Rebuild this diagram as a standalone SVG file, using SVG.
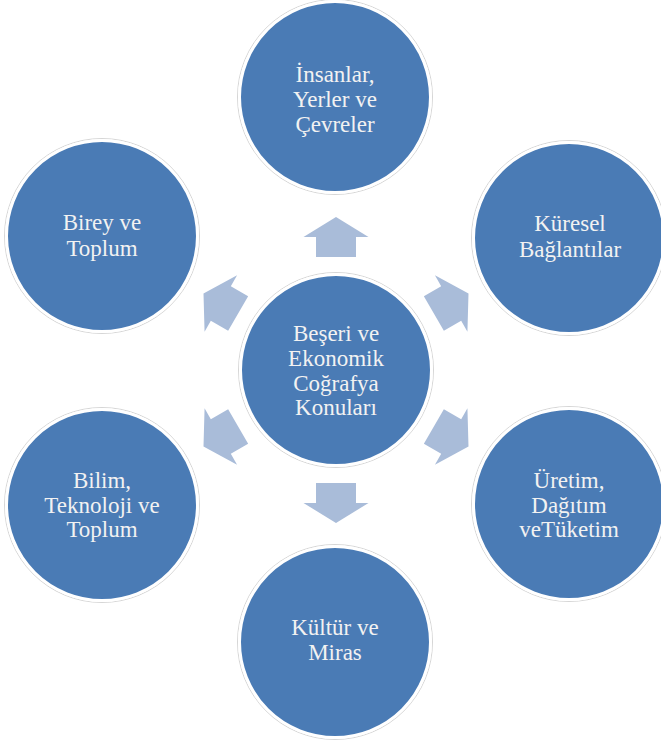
<svg xmlns="http://www.w3.org/2000/svg" width="661" height="740" viewBox="0 0 661 740">
<defs>
<style>
.halo{fill:none;stroke:#d6d6d6;stroke-width:1}
.disc{fill:#4a7bb5;stroke:#ffffff;stroke-width:3}
.lbl{font-family:'Liberation Serif','Times New Roman',serif;font-size:23px;fill:#f2f2f2;text-anchor:middle}
.arr{fill:#a9bcd9}
</style>
<polygon id="arrowShape" points="-20,-113 20,-113 20,-133 32.5,-133 0,-153 -32.5,-133 -20,-133"/>
</defs>
<rect width="661" height="740" fill="#ffffff"/>
<g id="connectors" class="arr">
<use href="#arrowShape" transform="translate(336,370)"/>
<use href="#arrowShape" transform="translate(336,370) rotate(60)"/>
<use href="#arrowShape" transform="translate(336,370) rotate(120)"/>
<use href="#arrowShape" transform="translate(336,370) rotate(180)"/>
<use href="#arrowShape" transform="translate(336,370) rotate(240)"/>
<use href="#arrowShape" transform="translate(336,370) rotate(300)"/>
</g>
<g id="center">
<circle class="halo" cx="336" cy="370" r="97.5"/>
<circle class="disc" cx="336" cy="370" r="95.5"/>
<text class="lbl" x="336" y="341">Beşeri ve</text>
<text class="lbl" x="336" y="366">Ekonomik</text>
<text class="lbl" x="336" y="391">Coğrafya</text>
<text class="lbl" x="336" y="415">Konuları</text>
</g>
<g id="top">
<circle class="halo" cx="335" cy="97" r="97.5"/>
<circle class="disc" cx="335" cy="97" r="95.5"/>
<text class="lbl" x="335" y="82">İnsanlar,</text>
<text class="lbl" x="335" y="107">Yerler ve</text>
<text class="lbl" x="335" y="132">Çevreler</text>
</g>
<g id="top-right">
<circle class="halo" cx="569" cy="238" r="97.5"/>
<circle class="disc" cx="569" cy="238" r="95.5"/>
<text class="lbl" x="570" y="231">Küresel</text>
<text class="lbl" x="570" y="257">Bağlantılar</text>
</g>
<g id="bottom-right">
<circle class="halo" cx="569" cy="504" r="97.5"/>
<circle class="disc" cx="569" cy="504" r="95.5"/>
<text class="lbl" x="569" y="488">Üretim,</text>
<text class="lbl" x="569" y="513">Dağıtım</text>
<text class="lbl" x="569" y="537">veTüketim</text>
</g>
<g id="bottom">
<circle class="halo" cx="335" cy="642" r="97.5"/>
<circle class="disc" cx="335" cy="642" r="95.5"/>
<text class="lbl" x="335" y="635">Kültür ve</text>
<text class="lbl" x="335" y="660">Miras</text>
</g>
<g id="bottom-left">
<circle class="halo" cx="102" cy="505" r="97.5"/>
<circle class="disc" cx="102" cy="505" r="95.5"/>
<text class="lbl" x="102" y="488">Bilim,</text>
<text class="lbl" x="102" y="513">Teknoloji ve</text>
<text class="lbl" x="102" y="537">Toplum</text>
</g>
<g id="top-left">
<circle class="halo" cx="102" cy="236" r="97.5"/>
<circle class="disc" cx="102" cy="236" r="95.5"/>
<text class="lbl" x="102" y="230">Birey ve</text>
<text class="lbl" x="102" y="256">Toplum</text>
</g>
</svg>
